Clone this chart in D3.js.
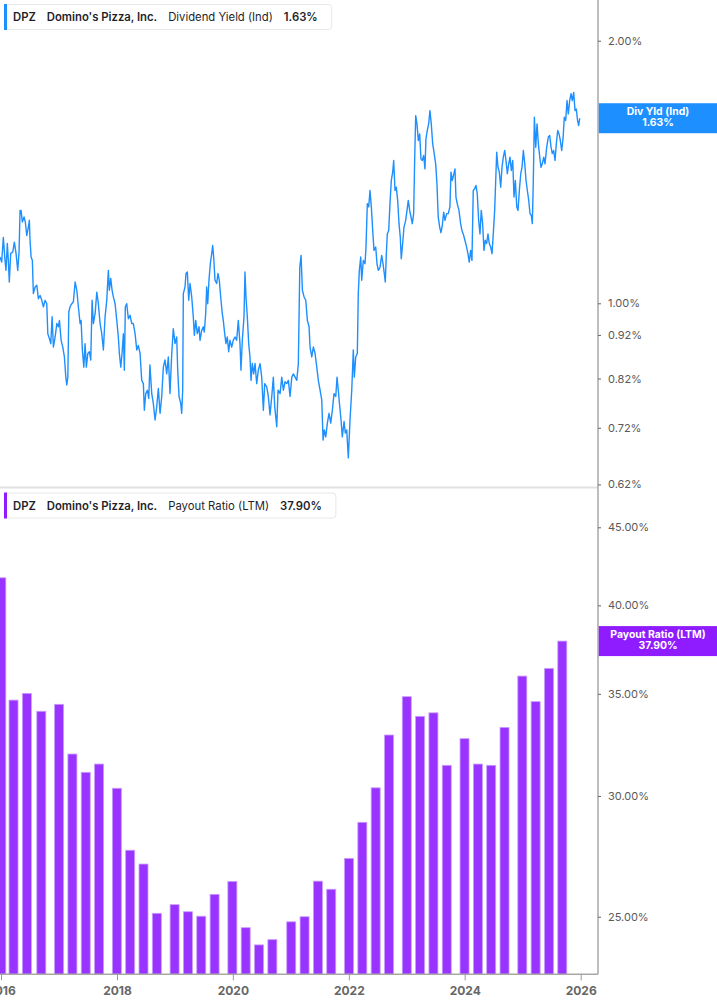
<!DOCTYPE html>
<html><head><meta charset="utf-8">
<script src="https://cdn.jsdelivr.net/npm/d3@7"></script>
<style>
html,body{margin:0;padding:0;background:#fff;overflow:hidden;}
svg{display:block;font-family:Inter,"Noto Sans",sans-serif;}
</style></head><body>
<svg id="chart" width="717" height="1005"></svg>
<script>
const ticker = "DPZ";
const company = "Domino's Pizza, Inc.";
const yieldName = "Dividend Yield (Ind)";
const yieldShort = "Div Yld (Ind)";
const payoutName = "Payout Ratio (LTM)";
const yieldLast = 1.63;
const payoutLast = 37.90;

// Dividend yield (%), dates as decimal years
const yieldDates = [
2015.983,2016.012,2016.040,2016.069,2016.086,2016.109,2016.126,2016.143,2016.167,2016.202,
2016.230,2016.259,2016.288,2016.311,2016.328,2016.345,2016.368,2016.397,2016.419,2016.443,
2016.471,2016.488,2016.500,2016.518,2016.540,2016.557,2016.587,2016.616,2016.644,2016.673,
2016.702,2016.730,2016.759,2016.788,2016.806,2016.833,2016.857,2016.880,2016.902,2016.932,
2016.961,2016.989,2017.006,2017.035,2017.064,2017.092,2017.116,2017.133,2017.151,2017.168,
2017.190,2017.220,2017.247,2017.277,2017.306,2017.333,2017.363,2017.380,2017.402,2017.427,
2017.449,2017.471,2017.496,2017.523,2017.547,2017.570,2017.592,2017.622,2017.651,2017.678,
2017.708,2017.737,2017.765,2017.794,2017.823,2017.851,2017.868,2017.892,2017.915,2017.937,
2017.967,2017.996,2018.023,2018.041,2018.065,2018.087,2018.110,2018.127,2018.144,2018.168,
2018.196,2018.225,2018.255,2018.282,2018.312,2018.341,2018.368,2018.398,2018.427,2018.455,
2018.472,2018.496,2018.524,2018.548,2018.568,
2018.600,2018.627,2018.657,2018.686,2018.714,2018.743,2018.772,2018.800,2018.829,2018.858,
2018.886,2018.915,2018.945,2018.972,2019.002,2019.031,2019.048,2019.071,2019.100,2019.117,
2019.134,2019.145,2019.174,2019.191,2019.214,2019.238,2019.260,2019.290,2019.317,2019.335,
2019.359,2019.386,2019.416,2019.433,2019.462,2019.490,2019.507,2019.531,2019.548,2019.566,
2019.588,2019.611,2019.635,2019.652,2019.669,2019.692,2019.721,2019.743,2019.766,2019.790,
2019.818,2019.835,2019.859,2019.881,2019.904,2019.928,2019.950,2019.980,2020.007,2020.037,
2020.066,2020.094,2020.123,2020.140,2020.163,2020.192,2020.209,2020.226,2020.249,2020.273,
2020.295,2020.313,2020.335,2020.359,2020.382,2020.411,2020.438,2020.468,2020.497,2020.525,
2020.549,2020.583,2020.611,2020.640,2020.670,2020.697,2020.721,2020.756,2020.778,2020.813,
2020.842,2020.870,2020.899,2020.928,2020.956,2020.985,2021.015,2021.042,2021.072,2021.101,
2021.128,2021.153,2021.175,2021.198,2021.227,2021.256,2021.284,2021.313,2021.330,2021.360,
2021.387,2021.417,2021.446,2021.473,2021.503,2021.532,2021.555,2021.577,2021.601,2021.629,
2021.658,2021.687,2021.715,2021.744,2021.774,2021.796,2021.818,2021.843,2021.865,2021.887,
2021.917,2021.939,2021.963,2021.991,2022.020,2022.050,2022.077,2022.094,2022.119,2022.146,
2022.163,2022.181,2022.205,2022.222,2022.250,2022.279,2022.296,2022.319,2022.343,2022.365,
2022.388,2022.412,2022.434,2022.464,2022.486,2022.509,2022.538,2022.567,2022.590,2022.612,
2022.629,2022.647,2022.664,2022.688,2022.710,2022.733,2022.757,2022.774,2022.797,2022.819,
2022.843,2022.866,2022.888,2022.905,2022.929,2022.952,2022.981,2023.004,2023.026,2023.050,
2023.073,2023.095,2023.119,2023.136,2023.154,2023.176,2023.199,2023.223,2023.245,2023.267,
2023.292,2023.314,2023.331,2023.354,2023.378,2023.400,2023.423,2023.447,2023.474,2023.499,
2023.521,2023.543,2023.568,2023.590,2023.613,2023.637,2023.659,2023.688,2023.716,2023.745,
2023.763,2023.785,2023.814,2023.832,2023.849,2023.871,2023.901,2023.930,2023.952,2023.975,
2024.004,2024.033,2024.056,2024.078,2024.102,2024.125,2024.147,2024.171,2024.194,2024.216,
2024.240,2024.263,2024.285,2024.309,2024.332,2024.354,2024.378,2024.401,2024.423,2024.447,
2024.470,2024.492,2024.516,2024.534,2024.551,2024.573,2024.596,2024.620,2024.642,2024.665,
2024.689,2024.711,2024.734,2024.758,2024.780,2024.803,2024.827,2024.849,2024.872,2024.896,
2024.918,2024.941,2024.965,2024.987,2025.010,2025.034,2025.056,2025.079,2025.103,2025.125,
2025.148,2025.165,2025.182,2025.200,2025.224,2025.246,2025.269,2025.293,2025.315,2025.337,
2025.362,2025.384,2025.413,2025.441,2025.465,2025.488,2025.510,2025.534,2025.557,2025.579,
2025.603,2025.626,2025.648,2025.672,2025.695,2025.717,2025.741,2025.764,2025.786,2025.810,
2025.833,2025.855,2025.879,2025.902,2025.924,2025.946,2025.965,2025.983
];
const yieldValues = [
1.130,1.115,1.190,1.120,1.091,1.171,1.120,1.058,1.141,1.145,
1.175,1.141,1.091,1.145,1.278,1.278,1.239,1.256,1.239,1.196,
1.223,1.245,1.181,1.130,1.120,1.026,1.044,1.049,1.012,1.021,
1.008,0.991,1.008,0.999,0.923,0.911,0.899,0.965,0.891,0.915,
0.948,0.940,0.956,0.907,0.891,0.868,0.823,0.806,0.823,0.978,
0.991,0.999,1.004,1.058,1.035,0.991,0.948,0.956,0.884,0.845,
0.899,0.845,0.876,0.880,0.861,1.008,0.948,0.973,1.030,0.999,
0.948,0.923,0.884,0.965,1.008,1.091,1.035,1.068,1.035,1.017,
0.999,0.956,0.915,0.876,0.845,0.876,0.923,0.838,0.991,0.999,
0.960,0.969,0.948,0.948,0.923,0.884,0.895,0.876,0.816,0.809,
0.754,0.788,0.795,0.778,0.850,
0.788,0.768,0.735,0.761,0.799,0.748,0.782,0.845,0.861,0.830,
0.868,0.788,0.876,0.935,0.899,0.915,0.838,0.782,0.768,0.748,
0.795,1.026,1.044,1.082,1.086,1.008,1.054,1.017,0.965,0.919,
0.956,0.923,0.940,0.907,0.931,0.940,0.927,0.973,1.044,0.999,
1.063,1.110,1.140,1.165,1.130,1.063,1.054,1.082,1.063,1.017,
0.973,0.956,0.923,0.899,0.915,0.880,0.907,0.891,0.907,0.915,
0.907,0.956,0.899,0.838,0.907,0.965,1.086,1.017,0.965,0.899,
0.868,0.816,0.853,0.830,0.853,0.809,0.838,0.853,0.823,0.754,
0.809,0.802,0.782,0.745,0.782,0.823,0.761,0.722,0.795,0.788,
0.823,0.795,0.813,0.809,0.816,0.782,0.823,0.830,0.823,0.816,
0.853,1.100,1.135,1.035,1.017,1.008,0.956,0.940,0.891,0.868,
0.891,0.876,0.845,0.816,0.795,0.775,0.697,0.716,0.703,0.729,
0.748,0.729,0.754,0.788,0.782,0.823,0.795,0.761,0.735,0.703,
0.732,0.710,0.716,0.665,0.735,0.795,0.884,0.823,0.868,0.876,
1.026,1.091,1.130,1.063,1.120,1.110,1.160,1.301,1.290,1.347,
1.290,1.212,1.150,1.160,1.110,1.091,1.100,1.135,1.110,1.082,
1.058,1.140,1.201,1.212,1.301,1.383,1.414,1.458,1.347,1.359,
1.312,1.234,1.191,1.125,1.171,1.223,1.245,1.278,1.312,1.278,
1.256,1.234,1.267,1.458,1.641,1.606,1.537,1.564,1.464,1.458,
1.477,1.426,1.544,1.578,1.606,1.663,1.606,1.524,1.485,1.445,
1.371,1.256,1.223,1.205,1.228,1.272,1.245,1.267,1.267,1.290,
1.414,1.383,1.408,1.426,1.324,1.301,1.278,1.234,1.212,1.201,
1.181,1.160,1.140,1.115,1.150,1.120,1.347,1.353,1.365,1.336,
1.245,1.201,1.278,1.234,1.150,1.181,1.171,1.201,1.171,1.160,
1.140,1.201,1.278,1.383,1.490,1.432,1.414,1.359,1.432,1.471,
1.497,1.458,1.408,1.445,1.471,1.420,1.458,1.324,1.383,1.290,
1.278,1.347,1.408,1.432,1.497,1.445,1.383,1.347,1.312,1.267,
1.261,1.234,1.383,1.634,1.510,1.606,1.524,1.471,1.432,1.445,
1.471,1.445,1.510,1.551,1.557,1.510,1.485,1.497,1.458,1.524,
1.578,1.564,1.537,1.497,1.544,1.634,1.620,1.708,1.649,1.708,
1.739,1.708,1.745,1.663,1.670,1.620,1.599,1.630
];

// Payout ratio (LTM, %) at fiscal quarter ends
const payoutDates = [
"2016-01-03","2016-03-20","2016-06-12","2016-09-11","2017-01-01","2017-03-26","2017-06-18","2017-09-10",
"2017-12-31","2018-03-25","2018-06-17","2018-09-09","2018-12-30","2019-03-24","2019-06-16","2019-09-08",
"2019-12-29","2020-03-22","2020-06-14","2020-09-06","2021-01-03","2021-03-28","2021-06-20","2021-09-12",
"2022-01-02","2022-03-27","2022-06-19","2022-09-11","2023-01-01","2023-03-26","2023-06-18","2023-09-10",
"2023-12-31","2024-03-24","2024-06-16","2024-09-08","2024-12-29","2025-03-23","2025-06-15","2025-09-07"
];
const payoutValues = [
41.70,34.67,35.02,34.09,34.45,31.96,31.09,31.48,
30.35,27.64,27.07,25.13,25.46,25.19,25.02,25.86,
26.37,24.59,23.96,24.15,24.81,25.00,26.38,26.06,
27.30,28.83,30.37,32.89,34.85,33.83,34.01,31.42,
32.71,31.48,31.42,33.27,35.95,34.59,36.37,37.90
];

const yieldTicks = [0.62, 0.72, 0.82, 0.92, 1.00, 2.00];
const payoutTicks = [25, 30, 35, 40, 45];
const yearTicks = [2016, 2018, 2020, 2022, 2024, 2026];

// ---------- layout ----------
const W = 717, axisX = 598;
const topTop = 0, topBottom = 487;
const botTop = 489, botBottom = 974.3;
const blue = "#1e8fff", purple = "#9933ff", purpleBox = "#8f1cff";

function decYear(v){
  const yr = Math.floor(v);
  const s = Date.UTC(yr,0,1), e = Date.UTC(yr+1,0,1);
  return new Date(s + (v-yr)*(e-s));
}

const svg = d3.select("#chart");

const x = d3.scaleUtc()
  .domain([new Date(Date.UTC(2016,0,1)), new Date(Date.UTC(2026,0,1))])
  .range([1, 580.7]);
const yTop = d3.scaleLog().domain([0.6158, 2.227]).range([topBottom, topTop]);
const yBot = d3.scaleLog().domain([22.92, 47.68]).range([botBottom, botTop]);

const yieldData = yieldDates.map((d,i)=>({date:decYear(d), v:yieldValues[i]}));
const payoutData = payoutDates.map((d,i)=>({date:d3.utcParse("%Y-%m-%d")(d), v:payoutValues[i]}));

// clip paths
const defs = svg.append("defs");
defs.append("clipPath").attr("id","clipTop").append("rect")
  .attr("x",0).attr("y",topTop).attr("width",axisX).attr("height",topBottom-topTop);
defs.append("clipPath").attr("id","clipBot").append("rect")
  .attr("x",0).attr("y",botTop).attr("width",axisX).attr("height",botBottom-botTop);

// separator between panels
svg.append("line").attr("x1",0).attr("x2",axisX).attr("y1",487.5).attr("y2",487.5)
  .attr("stroke","#e2e2e2").attr("stroke-width",2);

// ---------- top panel line ----------
const line = d3.line().x(d=>x(d.date)).y(d=>yTop(d.v)).curve(d3.curveLinear);
svg.append("path").datum(yieldData)
  .attr("clip-path","url(#clipTop)")
  .attr("d",line).attr("fill","none").attr("stroke",blue)
  .attr("stroke-width",1.4).attr("stroke-linejoin","round");

// ---------- bottom panel bars ----------
const barW = 9;
svg.append("g").attr("clip-path","url(#clipBot)")
  .selectAll("rect").data(payoutData).join("rect")
  .attr("x",d=>x(d.date)-barW/2)
  .attr("y",d=>yBot(d.v))
  .attr("width",barW)
  .attr("height",d=>botBottom-yBot(d.v))
  .attr("fill",purple)
  .attr("stroke","#c99cff").attr("stroke-width",0.8);

// ---------- axes ----------
const axisColor = "#a8a8a8";
svg.append("line").attr("x1",axisX).attr("x2",axisX).attr("y1",0).attr("y2",botBottom)
  .attr("stroke",axisColor).attr("stroke-width",1.5);
svg.append("line").attr("x1",0).attr("x2",axisX).attr("y1",botBottom).attr("y2",botBottom)
  .attr("stroke",axisColor).attr("stroke-width",1.5);

function rightAxis(scale, ticks, fmt){
  const g = svg.append("g").attr("transform",`translate(${axisX},0)`);
  const ax = d3.axisRight(scale).tickValues(ticks).tickFormat(fmt).tickSize(3).tickPadding(7);
  g.call(ax);
  g.select(".domain").remove();
  g.selectAll(".tick line").attr("stroke","#666").attr("stroke-width",1);
  g.selectAll(".tick text").attr("fill","#5a5a5a").style("font-size","11px")
    .style("font-family","Inter, 'Noto Sans', sans-serif");
}
rightAxis(yTop, yieldTicks, d=>d.toFixed(2)+"%");
rightAxis(yBot, payoutTicks, d=>d.toFixed(2)+"%");

const xg = svg.append("g").attr("transform",`translate(0,${botBottom})`);
xg.call(d3.axisBottom(x).tickValues(yearTicks.map(y=>new Date(Date.UTC(y,0,1))))
  .tickFormat(d3.utcFormat("%Y")).tickSize(6).tickPadding(6));
xg.select(".domain").remove();
xg.selectAll(".tick line").attr("stroke","#999");
xg.selectAll(".tick text").attr("fill","#666").style("font-size","12px").style("font-weight","700")
  .style("font-family","Inter, 'Noto Sans', sans-serif");

// ---------- legends ----------
function legend(y0, color, parts){
  const g = svg.append("g");
  const box = g.append("rect").attr("x",4.5).attr("y",y0+0.5).attr("height",25).attr("rx",3)
    .attr("fill","#fff").attr("stroke","#e8e8e8");
  g.append("rect").attr("x",4).attr("y",y0).attr("width",3).attr("height",26).attr("fill",color);
  let cx = 13;
  parts.forEach((p,i)=>{
    const t = g.append("text").attr("x",cx).attr("y",y0+17.2).text(p.t)
      .attr("fill","#1f1f2a").style("font-size","11.3px").style("font-weight",p.b?"600":"400");
    cx += t.node().getComputedTextLength() + (i===parts.length-1?14:11);
  });
  box.attr("width",cx-4.5);
}
legend(4, blue, [{t:ticker,b:1},{t:company,b:1},{t:yieldName,b:0},{t:yieldLast.toFixed(2)+"%",b:1}]);
legend(492.5, purpleBox, [{t:ticker,b:1},{t:company,b:1},{t:payoutName,b:0},{t:payoutLast.toFixed(2)+"%",b:1}]);

// ---------- right value labels ----------
function valueLabel(yc, color, l1, l2){
  const g = svg.append("g");
  g.append("rect").attr("x",axisX+0.75).attr("y",yc-15).attr("width",W-axisX).attr("height",30).attr("fill",color);
  [l1,l2].forEach((t,i)=>{
    g.append("text").attr("x",658).attr("y",yc-3.5+i*11.5).attr("text-anchor","middle")
      .attr("fill","#fff").style("font-size","10.4px").style("font-weight","700").text(t);
  });
}
valueLabel(yTop(yieldLast), blue, yieldShort, yieldLast.toFixed(2)+"%");
valueLabel(yBot(payoutLast), purpleBox, payoutName, payoutLast.toFixed(2)+"%");
</script>
</body></html>
